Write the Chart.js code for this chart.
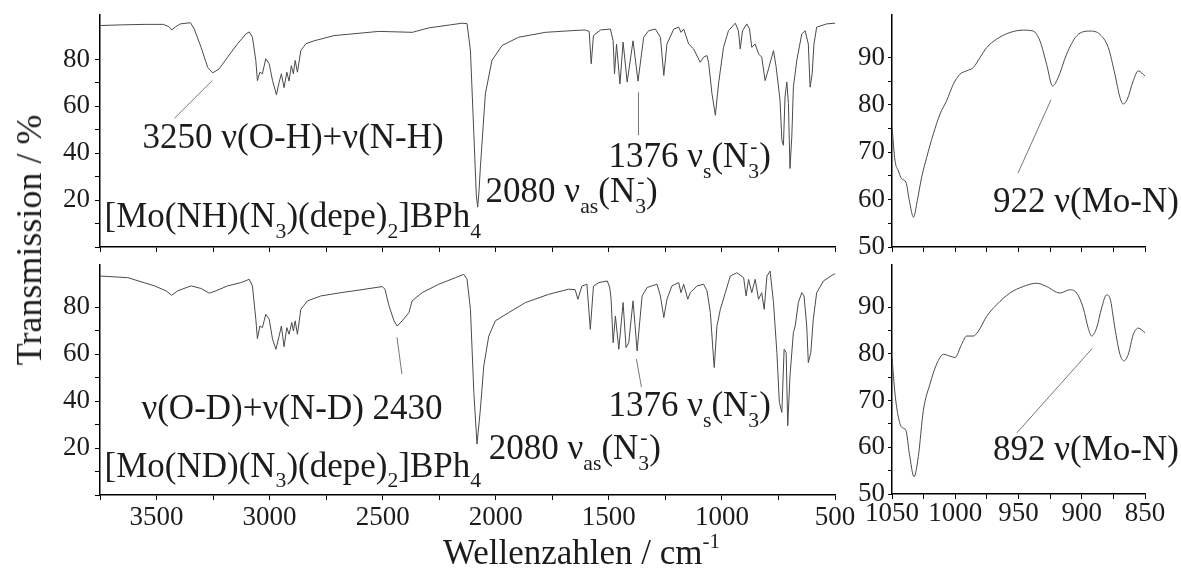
<!DOCTYPE html>
<html>
<head>
<meta charset="utf-8">
<script src="https://cdn.jsdelivr.net/npm/chart.js@4.4.1/dist/chart.umd.min.js"></script>
<style>
  body { margin: 0; background: #fff; }
  #wrap { position: relative; width: 1181px; height: 569px; overflow: hidden; }
  #wrap canvas { position: absolute; left: 0; top: 0; }
  .title { position: absolute; font-family: "Liberation Serif", "Times New Roman", serif; color: #1c1c1c; white-space: nowrap; line-height: 1; }
  #ytitle { left: 29px; top: 240px; font-size: 36px; transform: translate(-50%, -50%) rotate(-90deg); }
  #xtitle { left: 443px; top: 531px; font-size: 35px; }
  #xtitle sup { font-size: 60%; vertical-align: 0.75em; }
</style>
</head>
<body>
<div id="wrap">
  <canvas id="nh-full" width="1181" height="569"></canvas>
  <canvas id="nh-zoom" width="1181" height="569"></canvas>
  <canvas id="nd-full" width="1181" height="569"></canvas>
  <canvas id="nd-zoom" width="1181" height="569"></canvas>
  <div class="title" id="ytitle">Transmission / %</div>
  <div class="title" id="xtitle">Wellenzahlen / cm<sup>-1</sup></div>
</div>
<script>
// [Mo(NH)(N3)(depe)2]BPh4, full range
const nhWavenumber = [3750, 3650, 3550, 3470, 3445, 3433, 3415, 3395, 3350, 3333, 3303, 3274, 3252, 3223, 3186, 3142, 3105, 3090, 3076, 3061, 3054, 3043, 3032, 3017, 3002, 2987, 2970, 2958, 2948, 2936, 2924, 2914, 2904, 2895, 2887, 2877, 2862, 2840, 2803, 2715, 2627, 2517, 2440, 2369, 2296, 2200, 2149, 2127, 2112, 2097, 2086, 2080, 2074, 2068, 2046, 2017, 1972, 1899, 1781, 1650, 1605, 1587, 1578, 1568, 1537, 1493, 1481, 1475, 1466, 1451, 1437, 1419, 1393, 1371, 1346, 1324, 1294, 1272, 1257, 1243, 1213, 1191, 1181, 1169, 1147, 1125, 1096, 1081, 1066, 1059, 1044, 1029, 1015, 993, 971, 941, 927, 919, 909, 890, 878, 868, 853, 838, 824, 809, 794, 772, 760, 743, 735, 728, 721, 713, 706, 699, 691, 684, 669, 647, 632, 618, 610, 601, 593, 581, 537, 500];
const nhTransmission = [94.5, 94.8, 95, 95, 94, 92.6, 94, 95.2, 95.7, 93, 85.2, 76.7, 74.3, 76, 81, 86.7, 90.9, 91.8, 89.5, 79.6, 71, 74.6, 73.9, 80.3, 78.2, 71, 65, 70.3, 73.9, 68, 74.6, 70.8, 77.4, 73.9, 79.6, 74.6, 83.8, 86.7, 88, 90.2, 91, 92, 91.8, 91.6, 93.5, 94.8, 95.5, 95.3, 83.8, 48.4, 22, 17, 24, 34.2, 65.4, 79.6, 86, 89.5, 91.6, 92.4, 92.6, 92, 78.2, 90.2, 92.6, 93, 88, 73.9, 86.6, 69.6, 87.4, 70.4, 88, 70.8, 89.5, 92.3, 93, 89.5, 73.2, 86.6, 93, 93.8, 91.6, 93, 86.6, 84.5, 78.8, 81, 81.7, 78.8, 65.4, 56.2, 69.6, 85.2, 92.3, 95.5, 92.3, 84.5, 92.3, 95.2, 93, 85.2, 86.6, 82.4, 81, 71, 76, 83.8, 76.7, 62.6, 45.6, 43.4, 64, 70.4, 61.2, 33.5, 47, 68.2, 79.6, 90.9, 92.3, 86.6, 68.2, 73.9, 86.6, 93.8, 95.2, 95.5];

// [Mo(ND)(N3)(depe)2]BPh4, full range
const ndWavenumber = [3750, 3627, 3509, 3458, 3433, 3407, 3347, 3303, 3267, 3237, 3186, 3127, 3090, 3076, 3061, 3054, 3043, 3032, 3017, 3002, 2987, 2972, 2958, 2948, 2936, 2924, 2914, 2902, 2895, 2887, 2877, 2862, 2833, 2774, 2686, 2627, 2502, 2490, 2472, 2450, 2436, 2414, 2384, 2370, 2326, 2252, 2178, 2142, 2127, 2112, 2097, 2083, 2068, 2053, 2031, 2002, 1943, 1869, 1766, 1678, 1649, 1637, 1619, 1597, 1582, 1568, 1544, 1507, 1496, 1490, 1481, 1471, 1456, 1437, 1424, 1412, 1393, 1375, 1353, 1331, 1287, 1272, 1257, 1243, 1221, 1191, 1181, 1169, 1151, 1140, 1110, 1081, 1066, 1051, 1041, 1034, 1022, 1007, 985, 963, 934, 904, 893, 882, 868, 853, 838, 824, 813, 801, 787, 772, 757, 746, 735, 725, 716, 709, 699, 684, 676, 662, 647, 637, 625, 618, 607, 596, 581, 551, 507, 500];
const ndTransmission = [93.3, 92.6, 89.1, 87, 85.1, 87, 89.1, 88, 86, 87, 89.1, 90.5, 91.9, 89.1, 74.9, 66.6, 72, 71.3, 77, 74.9, 66.4, 62.1, 67.7, 72, 63.2, 71.3, 68.5, 73.5, 69.9, 74.2, 68.5, 79.1, 82.7, 84.8, 86.2, 87, 88.8, 87.7, 80.6, 74.2, 72, 74.2, 77.7, 82.7, 86.2, 89.8, 92.6, 94, 92, 79.1, 43.7, 21.7, 36.6, 55, 67.7, 74.2, 77.7, 82, 85.5, 87.7, 87.5, 83.4, 89, 89.8, 70.6, 89, 90.5, 91.2, 88.4, 83.4, 64.9, 76.3, 62.1, 82, 62.8, 64.9, 82.7, 61.4, 84.8, 88.4, 89.8, 84.8, 75.6, 83.4, 89.1, 90.5, 86.2, 89.8, 83.4, 86.2, 89.1, 89.8, 87, 77.7, 63.5, 54.3, 72, 79.1, 86.2, 93.3, 94.7, 92.6, 84.8, 91.9, 86.2, 91.9, 83.4, 86.2, 79.1, 93.3, 95.4, 82, 60.7, 39.4, 35.2, 62.1, 60.7, 29.5, 50.8, 69.2, 72, 82, 86.2, 84.8, 72, 56.4, 60.7, 74.9, 86.2, 91.2, 94, 94.2];

// 1050-850 cm-1 detail
const nhZoomWavenumber = [1050, 1047.6, 1045, 1042.4, 1039, 1036.3, 1033, 1030, 1026.6, 1022.6, 1017.3, 1012, 1006.8, 1001.5, 996.3, 991, 985.7, 980.5, 975.2, 967.3, 956.8, 946.2, 938.3, 933, 927.8, 923, 918.6, 912, 904, 893.5, 885.6, 879, 873.8, 869.8, 867.2, 864, 859.3, 855.3, 850];
const nhZoomTransmission = [75.3, 68.2, 66.1, 64.4, 63.7, 59.8, 56.3, 59.8, 64.7, 68.9, 73.9, 78.1, 80.9, 84.4, 86.5, 87.2, 87.9, 90, 92.1, 93.9, 95.3, 95.8, 95.6, 93.5, 88.6, 84, 85.8, 90.7, 94.6, 95.6, 94.9, 92.1, 86.5, 81.6, 80.2, 81.2, 85.1, 87.2, 86.1];
const ndZoomWavenumber = [1050, 1047.6, 1045, 1042.4, 1039, 1036.3, 1032.6, 1029.2, 1025.2, 1020, 1014.7, 1009.2, 1004.2, 1000.2, 995, 991, 985.7, 981.8, 975.2, 967.3, 956.8, 946.2, 935.7, 927.8, 917.3, 909.4, 904, 898.8, 894.9, 892.2, 888.3, 884.3, 880.4, 877.7, 873.8, 869.8, 866.7, 863.2, 859.3, 855.3, 850];
const ndZoomTransmission = [79.2, 71.4, 66.5, 64.3, 63.6, 58.7, 53.7, 58, 67.9, 73.5, 77.8, 79.9, 79.5, 79.2, 82, 83.8, 83.8, 84.8, 88, 90.5, 93, 94.4, 95.1, 94.4, 93, 93.7, 93, 89.8, 85.5, 83.8, 85.5, 89.8, 92.6, 91.9, 85.5, 79.9, 78.5, 79.9, 84.1, 85.5, 84.5];

// tick labels
const fullTickLabels = [3500, 3000, 2500, 2000, 1500, 1000, 500];
const zoomTickLabels = [1050, 1000, 950, 900, 850];
const fullYLabels = [20, 40, 60, 80];
const zoomYLabels = [50, 60, 70, 80, 90];

const FONT = '"Liberation Serif", "Times New Roman", serif';
const INK = '#1c1c1c';
const LINE = '#4a4a4a';
const NOTE_SIZE = 35;

const toPoints = (xs, ys) => xs.map((x, i) => ({ x, y: ys[i] }));

// text with sub/superscripts: parts = [[text, kind]], kind: n | sub | sup
const drawRich = (ctx, x, y, parts, size) => {
  let cx = x;
  let subStart = x;
  for (const [txt, kind] of parts) {
    if (kind === "sub") {
      ctx.font = `${size * 0.62}px ${FONT}`;
      ctx.fillText(txt, cx, y + size * 0.3);
      subStart = cx;
      cx += ctx.measureText(txt).width;
    } else if (kind === "sup") {
      ctx.font = `${size * 0.62}px ${FONT}`;
      const w = ctx.measureText(txt).width;
      const sx = subStart + 2;
      ctx.fillText(txt, sx, y - size * 0.42);
      cx = Math.max(cx, sx + w);
    } else {
      ctx.font = `${size}px ${FONT}`;
      ctx.fillText(txt, cx, y);
      cx += ctx.measureText(txt).width;
    }
  }
};

const notesPlugin = (notes) => ({
  id: "notes",
  afterDatasetsDraw(chart) {
    const { ctx, scales: { x, y } } = chart;
    ctx.save();
    ctx.strokeStyle = "#777";
    ctx.lineWidth = 1;
    notes.lines.forEach(([x1, y1, x2, y2]) => {
      ctx.beginPath();
      ctx.moveTo(x.getPixelForValue(x1), y.getPixelForValue(y1));
      ctx.lineTo(x.getPixelForValue(x2), y.getPixelForValue(y2));
      ctx.stroke();
    });
    ctx.fillStyle = INK;
    ctx.textAlign = "left";
    ctx.textBaseline = "alphabetic";
    notes.labels.forEach((l) => drawRich(ctx, x.getPixelForValue(l.x), y.getPixelForValue(l.y), l.parts, NOTE_SIZE));
    ctx.restore();
  },
});

const azide = (sub) => [["\u03bd", "n"], [sub, "sub"], ["(N", "n"], ["3", "sub"], ["-", "sup"], [")", "n"]];
const complex = (h) => [["[Mo(" + h + ")(N", "n"], ["3", "sub"], [")(depe)", "n"], ["2", "sub"], ["]BPh", "n"], ["4", "sub"]];

const makePanel = (id, p) => {
  new Chart(document.getElementById(id), {
    type: "scatter",
    data: {
      datasets: [
        {
          data: toPoints(p.xs, p.ys),
          showLine: true,
          borderColor: LINE,
          borderWidth: 1,
          pointRadius: 0,
          tension: p.smooth ? 0.4 : 0,
          cubicInterpolationMode: p.smooth ? "monotone" : "default",
        },
      ],
    },
    options: {
      responsive: false,
      animation: false,
      events: [],
      layout: { padding: p.padding },
      plugins: { legend: { display: false }, tooltip: { enabled: false } },
      scales: {
        x: {
          type: "linear",
          reverse: true,
          min: p.xMin,
          max: p.xMax,
          border: { color: "#000", width: 1.5 },
          grid: { drawOnChartArea: false, drawTicks: true, tickLength: 5, color: "#000", lineWidth: 1 },
          ticks: {
            stepSize: p.xStep,
            autoSkip: false,
            maxRotation: 0,
            padding: p.xPad,
            color: INK,
            font: { family: FONT, size: 27, lineHeight: 1 },
            callback: (v) => (p.xLabels.includes(v) ? String(v) : ""),
          },
          afterFit: (s) => {
            s.height = p.xHeight;
            s.paddingLeft = 0;
            s.paddingRight = 0;
          },
        },
        y: {
          min: p.yMin,
          max: p.yMax,
          border: { color: "#000", width: 1.5 },
          grid: { drawOnChartArea: false, drawTicks: true, tickLength: p.yTick, color: "#000", lineWidth: 1 },
          ticks: {
            stepSize: p.yStep,
            autoSkip: false,
            padding: p.yPad,
            color: INK,
            font: { family: FONT, size: 27, lineHeight: 1 },
            callback: (v) => (p.yLabels.includes(v) ? String(v) : ""),
          },
          afterBuildTicks: (s) => {
            s.ticks = s.ticks.filter((t) => Math.abs(t.value / p.yStep - Math.round(t.value / p.yStep)) < 1e-6);
          },
          afterFit: (s) => {
            s.width = 60;
            s.paddingTop = 0;
            s.paddingBottom = 0;
          },
        },
      },
    },
    plugins: [notesPlugin(p.notes)],
  });
};

makePanel("nh-full", {
  xs: nhWavenumber, ys: nhTransmission,
  xMin: 500, xMax: 3750, xStep: 250, xLabels: [], xHeight: 30, xPad: 4,
  yMin: 0, yMax: 99, yStep: 10, yLabels: fullYLabels, yTick: 5, yPad: 5,
  padding: { left: 40, top: 15, right: 346, bottom: 292 },
  notes: {
    lines: [[3253, 71.1, 3421, 54.9], [1369, 66, 1369, 47.7]],
    labels: [
      { x: 3562, y: 42.1, parts: [["3250 \u03bd(O-H)+\u03bd(N-H)", "n"]] },
      { x: 3730, y: 8.5, parts: complex("NH") },
      { x: 2045, y: 19.1, parts: [["2080 ", "n"]].concat(azide("as")) },
      { x: 1502, y: 34, parts: [["1376 ", "n"]].concat(azide("s")) },
    ],
  },
});

makePanel("nd-full", {
  xs: ndWavenumber, ys: ndTransmission,
  xMin: 500, xMax: 3750, xStep: 250, xLabels: fullTickLabels, xHeight: 40, xPad: 4,
  yMin: 0, yMax: 98, yStep: 10, yLabels: fullYLabels, yTick: 5, yPad: 5,
  padding: { left: 40, top: 265, right: 346, bottom: 34 },
  notes: {
    lines: [[2437, 67.2, 2415, 51.5], [1378, 57.9, 1356, 46]],
    labels: [
      { x: 3567, y: 32.3, parts: [["\u03bd(O-D)+\u03bd(N-D) 2430", "n"]] },
      { x: 3730, y: 7.7, parts: complex("ND") },
      { x: 2031, y: 15.3, parts: [["2080 ", "n"]].concat(azide("as")) },
      { x: 1502, y: 33.6, parts: [["1376 ", "n"]].concat(azide("s")) },
    ],
  },
});

makePanel("nh-zoom", {
  xs: nhZoomWavenumber, ys: nhZoomTransmission, smooth: true,
  xMin: 850, xMax: 1050, xStep: 25, xLabels: [], xHeight: 30, xPad: 2,
  yMin: 50, yMax: 99, yStep: 5, yLabels: zoomYLabels, yTick: 4, yPad: 3,
  padding: { left: 832, top: 15, right: 36, bottom: 292 },
  notes: {
    lines: [[924.3, 81.1, 950.4, 65.6]],
    labels: [{ x: 970.2, y: 57.4, parts: [["922 \u03bd(Mo-N)", "n"]] }],
  },
});

makePanel("nd-zoom", {
  xs: ndZoomWavenumber, ys: ndZoomTransmission, smooth: true,
  xMin: 850, xMax: 1050, xStep: 25, xLabels: zoomTickLabels, xHeight: 40, xPad: 1,
  yMin: 50, yMax: 99, yStep: 5, yLabels: zoomYLabels, yTick: 4, yPad: 3,
  padding: { left: 832, top: 265, right: 36, bottom: 35 },
  notes: {
    lines: [[891.9, 81.1, 951.2, 63.1]],
    labels: [{ x: 970.2, y: 57.2, parts: [["892 \u03bd(Mo-N)", "n"]] }],
  },
});
</script>
</body>
</html>
